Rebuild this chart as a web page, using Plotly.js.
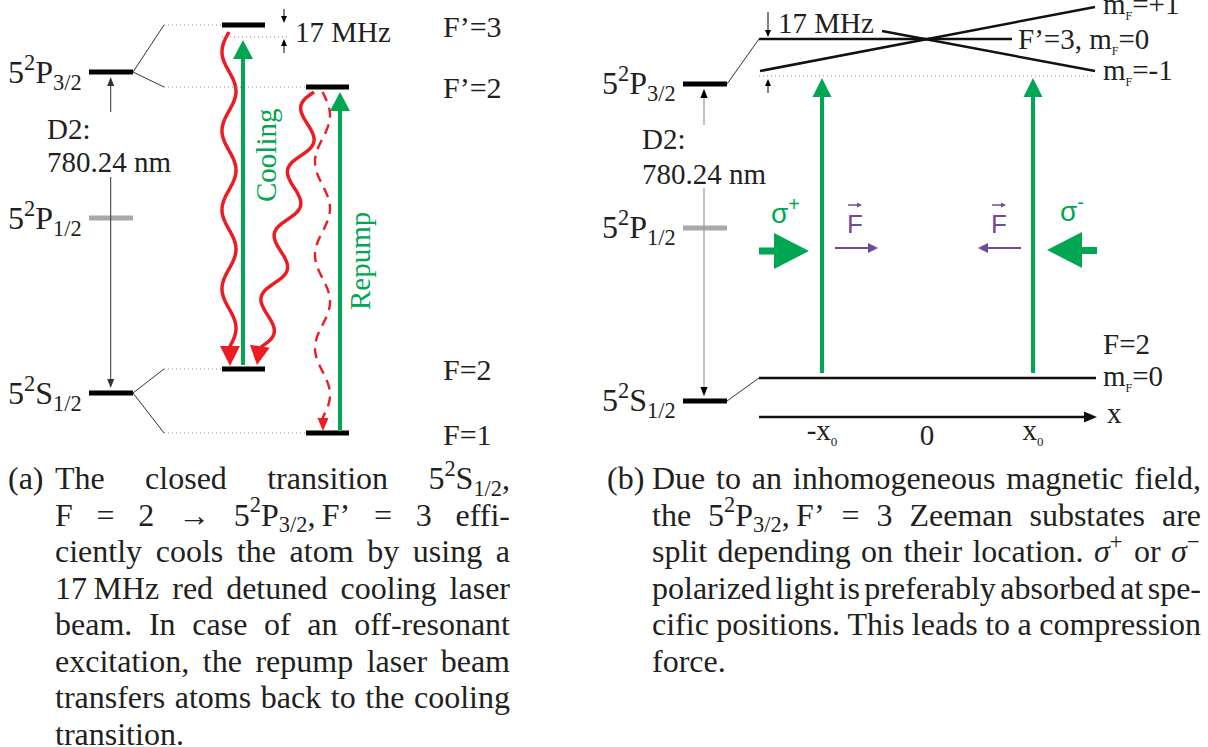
<!DOCTYPE html>
<html>
<head>
<meta charset="utf-8">
<script src="https://cdn.plot.ly/plotly-3.0.1.min.js"></script>
<style>
  html, body { margin: 0; padding: 0; background: #fff; }
  #chart { width: 1208px; height: 747px; }
</style>
</head>
<body>
<div id="chart"></div>
<script>
// ---------- fonts & colours ----------
const SERIF = '"Liberation Serif", "Times New Roman", serif';
const SANS = '"Liberation Sans", Arial, sans-serif';
const INK = '#231f20';
const GREEN = '#00a651';
const RED = '#ed1c24';
const PURPLE = '#6e4b9e';
const GREY = '#a7a9ac';

// ---------- level scheme, panel (a) ----------
const fineNames = ['5<sup>2</sup>P<sub>3/2</sub>', '5<sup>2</sup>P<sub>1/2</sub>', '5<sup>2</sup>S<sub>1/2</sub>'];
const fineLevelA = [72, 218, 393];
const fineLevelB = [84, 228, 401];
const fineIsGrey = [false, true, false];

const hfNames = ['F’=3', 'F’=2', 'F=2', 'F=1'];
const hfLevel = [25, 87, 369, 433];
const hfParent = [0, 0, 2, 2];
const hfColumn = [0, 1, 0, 1];
const columnLeft = [222, 306];

const detuning = '17 MHz';
const detunedLevel = 37;
const d2Text = ['D2:', '780.24 nm'];

const laserNames = ['Cooling', 'Repump'];
const laserColumnX = [243, 340];
const laserLower = [365, 430];
const laserUpper = [40, 92];

// ---------- Zeeman scheme, panel (b) ----------
const positionTicks = ['-x<sub><span style="font-size:13px">0</span></sub>', '0', 'x<sub><span style="font-size:13px">0</span></sub>'];
const positionX = [822, 927, 1033];
const mfNames = ['m<sub><span style="font-size:12px">F</span></sub>=+1', 'F’=3, m<sub><span style="font-size:12px">F</span></sub>=0', 'm<sub><span style="font-size:12px">F</span></sub>=-1'];
const mfLeftY = [71, 39, 31];
const mfRightY = [7, 39, 71];
const mfLeftX = [760, 759, 882];
const mfRightX = [1095, 1012, 1095];
const groundName = ['F=2', 'm<sub><span style="font-size:12px">F</span></sub>=0'];
const groundLevel = 378;
const resonanceLevel = 76;
const beamNames = ['σ<sup>+</sup>', 'σ<sup>-</sup>'];

// ---------- captions ----------
const captionA = [
  'The closed transition 5<sup>2</sup>S<sub>1/2</sub>,',
  'F = 2 → 5<sup>2</sup>P<sub>3/2</sub>,\u2009F’ = 3 effi-',
  'ciently cools the atom by using a',
  '17\u2009MHz red detuned cooling laser',
  'beam. In case of an off-resonant',
  'excitation, the repump laser beam',
  'transfers atoms back to the cooling',
  'transition.'
];
const captionB = [
  'Due to an inhomogeneous magnetic field,',
  'the 5<sup>2</sup>P<sub>3/2</sub>,\u2009F’ = 3 Zeeman substates are',
  'split depending on their location. <i>σ</i><sup>+</sup> or <i>σ</i><sup>−</sup>',
  'polarized light is preferably absorbed at spe-',
  'cific positions. This leads to a compression',
  'force.'
];

// ---------- drawing helpers ----------
const shapes = [];
const traces = [];
const annotations = [];

function seg(x0, y0, x1, y1, color, width, dash) {
  shapes.push({type: 'line', xref: 'x', yref: 'y', x0, y0, x1, y1,
    line: {color, width, dash: dash || 'solid'}, layer: 'above'});
}
function poly(pts, color) {
  const d = 'M ' + pts.map(p => p[0].toFixed(2) + ' ' + p[1].toFixed(2)).join(' L ') + ' Z';
  shapes.push({type: 'path', xref: 'x', yref: 'y', path: d, fillcolor: color,
    line: {width: 0}, layer: 'above'});
}
function head(tx, ty, dx, dy, len, hw, color) {
  const n = Math.hypot(dx, dy); dx /= n; dy /= n;
  const bx = tx - dx * len, by = ty - dy * len;
  poly([[tx, ty], [bx - dy * hw, by + dx * hw], [bx + dy * hw, by - dx * hw]], color);
}
function arrow(x0, y0, x1, y1, color, width, len, hw) {
  const n = Math.hypot(x1 - x0, y1 - y0);
  const ux = (x1 - x0) / n, uy = (y1 - y0) / n;
  seg(x0, y0, x1 - ux * len * 0.7, y1 - uy * len * 0.7, color, width);
  head(x1, y1, ux, uy, len, hw, color);
}
// squiggly photon line between two points
function squiggle(x0, y0, x1, y1, halfWaves, amp, side, color, width, dash) {
  const L = Math.hypot(x1 - x0, y1 - y0);
  const ux = (x1 - x0) / L, uy = (y1 - y0) / L;
  const px = -uy, py = ux;
  const xs = [], ys = [];
  const N = 240;
  for (let i = 0; i <= N; i++) {
    const t = i / N;
    const o = side * amp * Math.sin(Math.PI * halfWaves * t);
    xs.push(x0 + ux * L * t + px * o);
    ys.push(y0 + uy * L * t + py * o);
  }
  traces.push({type: 'scatter', mode: 'lines', x: xs, y: ys, hoverinfo: 'skip',
    line: {color, width, dash: dash || 'solid', shape: 'spline'}, showlegend: false});
}
function label(xs, ys, texts, size, color, family, pos) {
  traces.push({type: 'scatter', mode: 'text', x: xs, y: ys, text: texts,
    textposition: pos || 'middle right', textfont: {family, size, color},
    hoverinfo: 'skip', showlegend: false, cliponaxis: false});
}

// text measuring for justified captions
const ctx = document.createElement('canvas').getContext('2d');
function measurePlain(s, size) {
  ctx.font = size + 'px ' + SERIF;
  return ctx.measureText(s.replace(/<[^>]+>/g, '')).width;
}
function measureWord(html, size) {
  let w = 0, last = 0, m;
  const re = /<(sup|sub)>(.*?)<\/\1>/g;
  while ((m = re.exec(html))) {
    w += measurePlain(html.slice(last, m.index), size);
    w += measurePlain(m[2], size * 0.7);
    last = re.lastIndex;
  }
  return w + measurePlain(html.slice(last), size);
}
function paragraph(lines, left, right, baseline0, step, size) {
  const xs = [], ys = [], ts = [];
  lines.forEach((ln, i) => {
    const words = ln.split(' ');
    const widths = words.map(w => measureWord(w, size));
    const total = widths.reduce((a, b) => a + b, 0);
    const last = i === lines.length - 1;
    const gap = (last || words.length < 2) ? measurePlain(' ', size) : (right - left - total) / (words.length - 1);
    let x = left;
    const y = baseline0 + i * step - 0.25 * size;
    words.forEach((w, k) => { xs.push(x); ys.push(y); ts.push(w); x += widths[k] + gap; });
  });
  label(xs, ys, ts, size, INK, SERIF);
}

// ---------- panel (a) ----------
const fineA = [89, 133];
fineLevelA.forEach((y, i) => seg(fineA[0], y, fineA[1], y, fineIsGrey[i] ? GREY : '#000', 5));
label(fineLevelA.map(() => 8), fineLevelA.map(y => y + 3), fineNames, 32, INK, SERIF);

// D2 arrow through the D1 level
arrow(110.7, 112, 110.7, fineLevelA[0] + 5, '#333', 1, 9, 3.5);
arrow(110.7, 177, 110.7, fineLevelA[2] - 5, '#333', 1, 9, 3.5);
label([47, 47], [132, 165], d2Text, 29, INK, SERIF);

// hyperfine splitting: fan lines and dotted guides
hfLevel.forEach((y, i) => {
  const py = fineLevelA[hfParent[i]];
  const x0 = columnLeft[hfColumn[i]];
  seg(fineA[1], py, 164, y, '#333', 1);
  seg(164, y, x0, y, '#888', 1, '1px,3px');
  seg(x0, y, x0 + 43, y, '#000', 5);
});
label(hfLevel.map(() => 443), hfLevel.map((y, i) => y + [4, 3, 3, 4][i]), hfNames, 30, INK, SERIF);

// detuning marker
seg(columnLeft[0], detunedLevel, 287, detunedLevel, '#888', 1, '1px,3px');
arrow(284, 9, 284, hfLevel[0] - 2, '#000', 1, 7, 3);
arrow(284, 53, 284, detunedLevel + 2, '#000', 1, 7, 3);
label([295], [35], [detuning], 29, INK, SERIF);

// spontaneous decay (red) and laser excitation (green)
squiggle(229, 32, 229, 348, 8, 7, 1, RED, 3.5);
head(230, 366, 0, 1, 20, 10, RED);
squiggle(314, 92, 261, 347, 8, 10, 1, RED, 3.5);
head(257, 365, -0.15, 1, 19, 10, RED);
squiggle(322.5, 92, 322.5, 418, 7, 7.5, -1, RED, 2.4, '10px,7px');
head(323, 431, 0, 1, 13, 5.5, RED);

laserNames.forEach((n, i) => {
  arrow(laserColumnX[i], laserLower[i], laserColumnX[i], laserUpper[i], GREEN, 4, 19, 10);
});
annotations.push({x: 266, y: 156, xref: 'x', yref: 'y', text: laserNames[0], showarrow: false,
  textangle: -90, font: {family: SERIF, size: 29, color: GREEN}, xanchor: 'center', yanchor: 'middle'});
annotations.push({x: 360, y: 261, xref: 'x', yref: 'y', text: laserNames[1], showarrow: false,
  textangle: -90, font: {family: SERIF, size: 29, color: GREEN}, xanchor: 'center', yanchor: 'middle'});

// ---------- panel (b) ----------
const fineB = [683, 727];
fineLevelB.forEach((y, i) => seg(fineB[0], y, fineB[1], y, fineIsGrey[i] ? GREY : '#000', 5));
label(fineLevelB.map(() => 602), fineLevelB.map(y => y + 2), fineNames, 32, INK, SERIF);
arrow(704, 125, 704, fineLevelB[0] + 5, '#999', 1.2, 9, 3.5);
arrow(704, 188, 704, fineLevelB[2] - 5, '#999', 1.2, 9, 3.5);
head(704, fineLevelB[0] + 5, 0, -1, 9, 3.5, '#000');
head(704, fineLevelB[2] - 5, 0, 1, 9, 3.5, '#000');
label([642, 642], [142, 177], d2Text, 29, INK, SERIF);

// Zeeman substates of F'=3 along x
seg(fineB[1], fineLevelB[0], 759, mfLeftY[1], '#333', 1);
mfNames.forEach((n, i) => seg(mfLeftX[i], mfLeftY[i], mfRightX[i], mfRightY[i], '#111', 2.5));
seg(759, resonanceLevel, 1095, resonanceLevel, '#888', 1, '1px,3px');
label([1103, 1018, 1103], [7, 42, 73], mfNames, 29, INK, SERIF);
arrow(768, 12, 768, mfLeftY[1] - 2, '#000', 1, 7, 3);
arrow(768, 93, 768, resonanceLevel + 3, '#000', 1, 7, 3);
label([778], [26], [detuning], 29, INK, SERIF);

// ground state and position axis
seg(fineB[1], fineLevelB[2], 759, groundLevel, '#333', 1);
seg(759, groundLevel, 1096, groundLevel, '#111', 2.5);
label([1103, 1103], [347, 379], groundName, 29, INK, SERIF);
arrow(759, 417, 1097, 417, '#111', 2.5, 13, 5.5);
label([1107], [416], ['x'], 29, INK, SERIF);
label(positionX, [433, 438, 433], positionTicks, 29, INK, SERIF, 'middle center');

// absorption at -x0 and x0
[positionX[0], positionX[2]].forEach(x => arrow(x, 373, x, 78, GREEN, 4, 19, 9.5));

// circularly polarised beams
poly([[759, 247.5], [774, 247.5], [774, 233], [809, 251], [774, 269], [774, 254.5], [759, 254.5]], GREEN);
poly([[1097, 247], [1082, 247], [1082, 232], [1047, 250], [1082, 268], [1082, 254], [1097, 254]], GREEN);
label([771, 1060], [216, 214], beamNames, 28, GREEN, SANS);

// resulting force
label([847, 991], [226, 226], ['F', 'F'], 26, PURPLE, SANS);
arrow(848, 205, 862, 205, PURPLE, 1.5, 5, 2.5);
arrow(992, 205, 1006, 205, PURPLE, 1.5, 5, 2.5);
arrow(835, 248, 878, 248, PURPLE, 2, 10, 5);
arrow(1021, 248, 978, 248, PURPLE, 2, 10, 5);

// ---------- captions ----------
label([8], [489 - 8], ['(a)'], 32, INK, SERIF);
paragraph(captionA, 55, 510, 489, 36.5, 32);
label([607], [489 - 8], ['(b)'], 32, INK, SERIF);
paragraph(captionB, 652, 1201, 489, 36.5, 32);

const layout = {
  width: 1208, height: 747,
  margin: {l: 0, r: 0, t: 0, b: 0},
  paper_bgcolor: '#ffffff', plot_bgcolor: '#ffffff',
  xaxis: {range: [0, 1208], visible: false, fixedrange: true},
  yaxis: {range: [747, 0], visible: false, fixedrange: true},
  showlegend: false,
  shapes, annotations
};
Plotly.newPlot('chart', traces, layout, {staticPlot: true, displayModeBar: false});
</script>
</body>
</html>
